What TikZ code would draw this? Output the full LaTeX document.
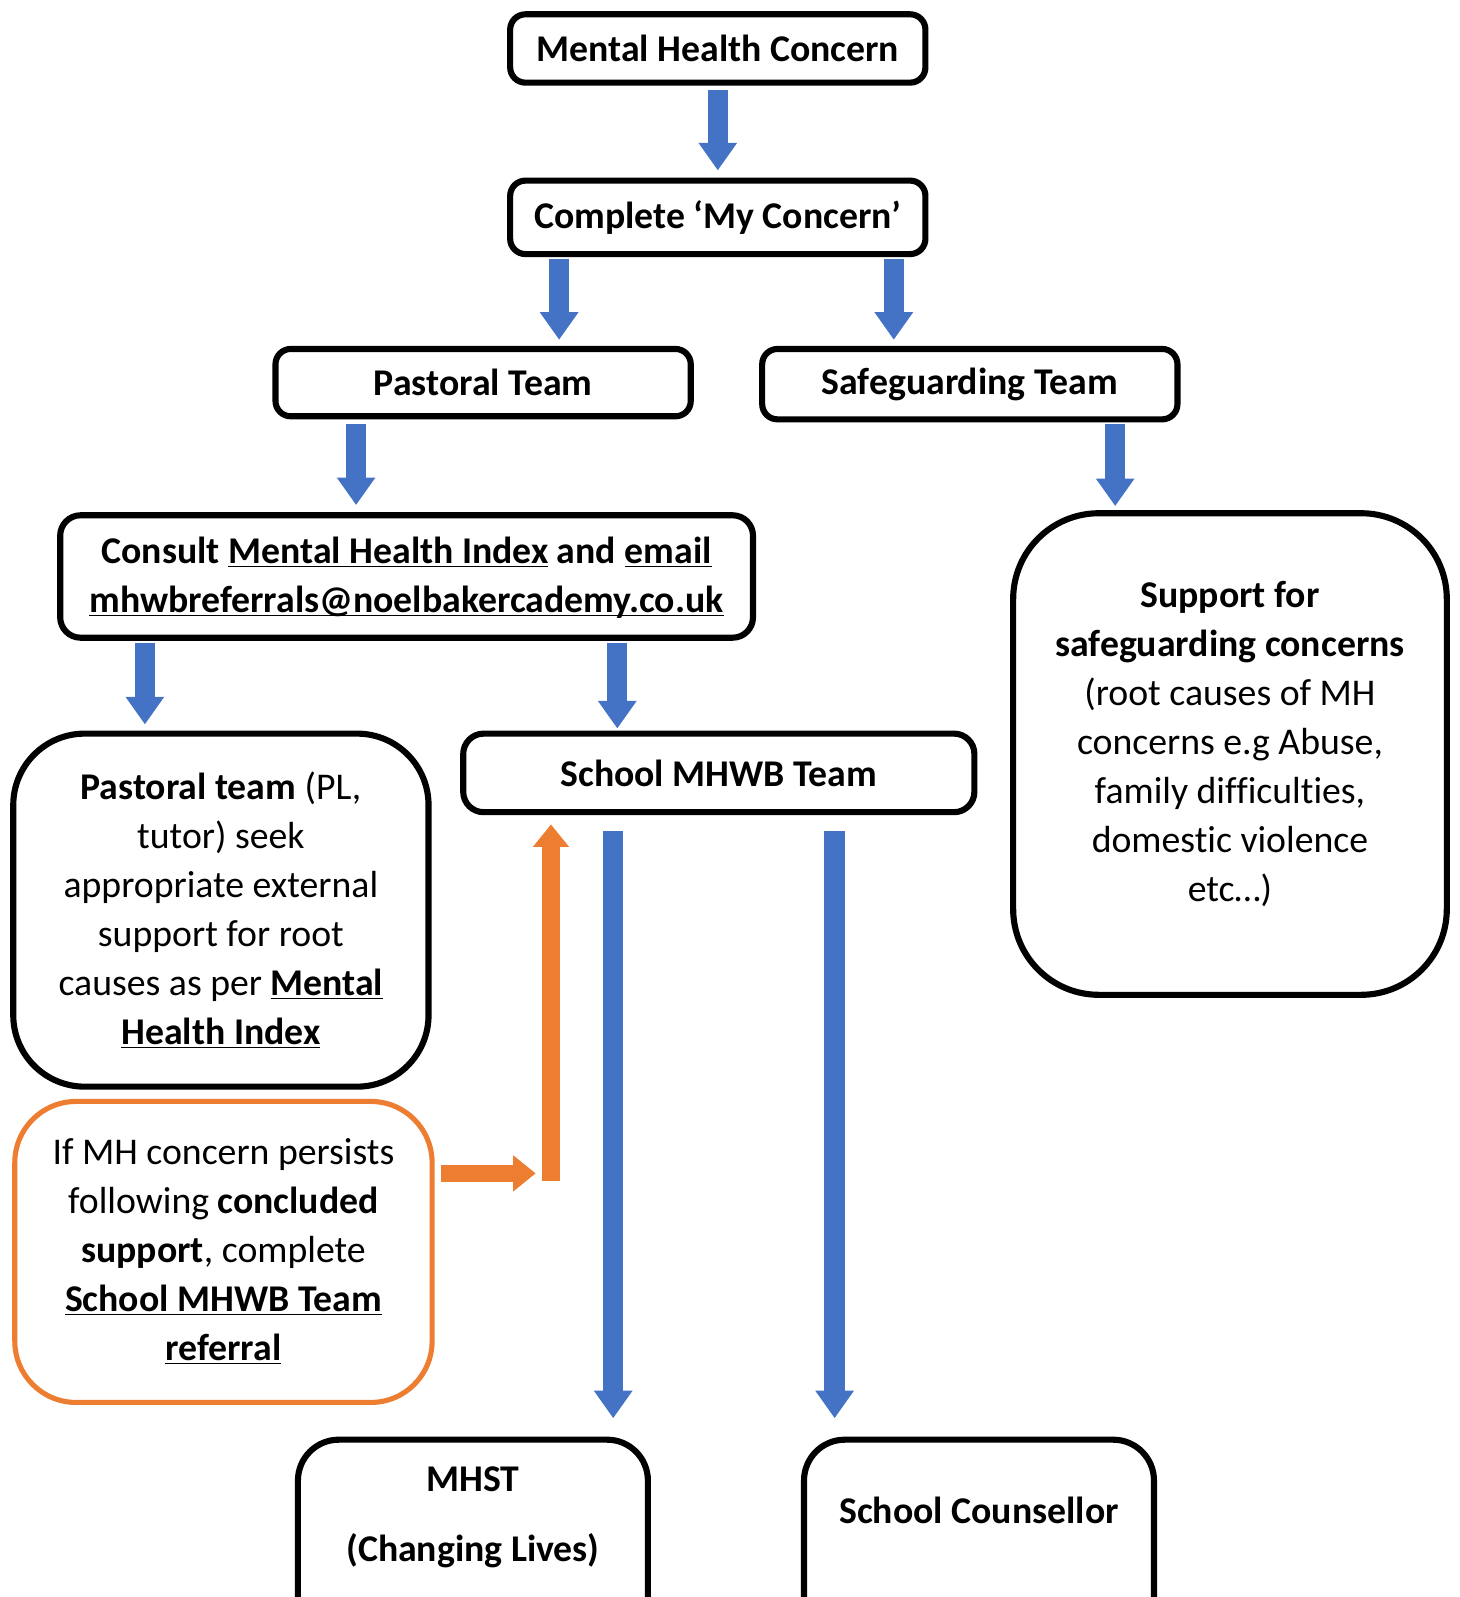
\documentclass[tikz,border=0pt]{standalone}
\usepackage{fontspec}
\setmainfont{Carlito}[Ligatures=NoCommon]
\usetikzlibrary{arrows.meta}
\definecolor{blueA}{HTML}{4472C4}
\definecolor{orangeA}{HTML}{ED7D31}
\newcommand{\uln}[1]{\underline{\smash{#1}}}
\tikzset{
  box/.style={draw=black, line width=3pt, fill=white, align=center, inner sep=2pt,
    font=\fontsize{18.5}{24}\selectfont},
  obox/.style={box, draw=orangeA, line width=2.5pt},
  txt/.style={align=center, font=\fontsize{18.5}{24}\selectfont},
  blk/.style={draw=blueA, line width=10pt, -{Triangle[width=18pt,length=13.5pt]}},
  oarr/.style={draw=orangeA, line width=8.5pt, -{Triangle[width=17pt,length=11pt]}},
}
\begin{document}
\begin{tikzpicture}[x=0.5pt,y=-0.5pt]
\useasboundingbox (0,0) rectangle (1430,1565.2);
% boxes
\node[box, rounded corners=7.5pt, minimum width=203.5pt, minimum height=33.5pt] (mhc) at (703.5,47.5) {\textbf{Mental Health Concern}};
\node[box, rounded corners=7.5pt, minimum width=203.5pt, minimum height=36pt] (cmc) at (703.5,213) {\textbf{Complete ‘My Concern’}};
\node[box, rounded corners=7.5pt, minimum width=203.5pt, minimum height=33pt] (pt) at (473.5,375) {\textbf{Pastoral Team}};
\node[box, rounded corners=7.5pt, minimum width=203.5pt, minimum height=34.5pt] (sg) at (950.5,376.5) {\textbf{Safeguarding Team}};
\node[box, rounded corners=10pt, minimum width=339.5pt, minimum height=60pt] (consult) at (398.5,565)
  {\textbf{Consult \uln{Mental Health Index} and \uln{email}}\\ \textbf{\uln{mhwbreferrals@noelbakercademy.co.uk}}};
\node[box, rounded corners=42pt, minimum width=212.5pt, minimum height=236pt] (supp) at (1205.5,739) {};
\node[txt] (supptxt) at (1205.5,729)
  {\textbf{Support for}\\ \textbf{safeguarding concerns}\\ (root causes of MH\\ concerns e.g Abuse,\\ family difficulties,\\ domestic violence\\ etc…)};
\node[box, rounded corners=35pt, minimum width=203.5pt, minimum height=173pt] (past) at (216.5,892)
  {\textbf{Pastoral team} (PL,\\ tutor) seek\\ appropriate external\\ support for root\\ causes as per \textbf{\uln{Mental}}\\ \textbf{\uln{Health Index}}};
\node[box, rounded corners=10pt, minimum width=250.5pt, minimum height=38.5pt] (mhwb) at (704.5,757.5) {\textbf{School MHWB Team}};
\node[obox, rounded corners=30pt, minimum width=204.5pt, minimum height=147.5pt] (orb) at (219,1227)
  {If MH concern persists\\ following \textbf{concluded}\\ \textbf{support}, complete\\ \textbf{\uln{School MHWB Team}}\\ \textbf{\uln{referral}}};
\node[box, rounded corners=20pt, minimum width=171.5pt, minimum height=113pt] (mhst) at (463.5,1524) {};
\node[box, rounded corners=20pt, minimum width=171.5pt, minimum height=113pt] (couns) at (959.5,1524) {};
\node[txt] (mhsttxt) at (463.5,1487) {\textbf{MHST}\\[10.5pt] \textbf{(Changing Lives)}};
\node[txt] (counstxt) at (959.5,1480) {\textbf{School Counsellor}};
% blue arrows
\draw[blk] ([yshift=-2pt]mhc.south) -- ([yshift=3.5pt]cmc.north);
\draw[blk] ([xshift=-77.75pt,yshift=-1pt]cmc.south) -- ([xshift=37.25pt,yshift=3pt]pt.north);
\draw[blk] ([xshift=86.25pt,yshift=-1pt]cmc.south) -- ([xshift=-37.25pt,yshift=3pt]sg.north);
\draw[blk] ([xshift=-62.25pt,yshift=-2.5pt]pt.south) -- ([xshift=-24.75pt,yshift=3.5pt]consult.north);
\draw[blk] ([xshift=71.25pt,yshift=-1pt]sg.south) -- ([xshift=-56.25pt,yshift=2pt]supp.north);
\draw[blk] ([xshift=-128.25pt,yshift=-1pt]consult.south) -- ([xshift=-37.25pt,yshift=3pt]past.north);
\draw[blk] ([xshift=103.25pt,yshift=-1pt]consult.south) -- ([xshift=-49.75pt,yshift=1pt]mhwb.north);
\draw[blk] ([xshift=-51.75pt,yshift=-7.5pt]mhwb.south) -- ([xshift=68.75pt,yshift=9pt]mhst.north);
\draw[blk] ([xshift=56.75pt,yshift=-7.5pt]mhwb.south) -- ([xshift=-70.75pt,yshift=9pt]couns.north);
% orange arrows
\coordinate (ojoin) at (540,1157);
\draw[oarr] (ojoin) -- ([xshift=-82.25pt,yshift=-4.5pt]mhwb.south);
\draw[oarr] ([xshift=3pt,yshift=38.5pt]orb.east) -- ++(93,0);
\end{tikzpicture}
\end{document}
